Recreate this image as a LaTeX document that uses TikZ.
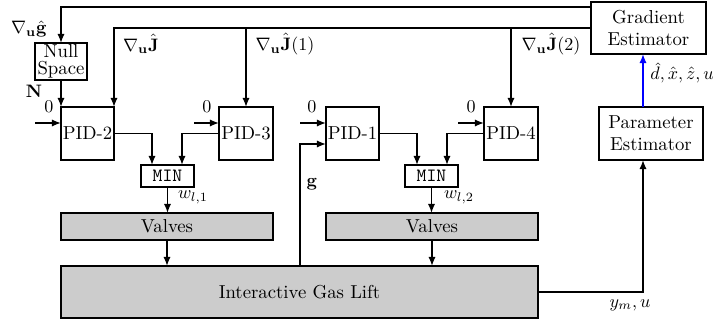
\documentclass[tikz,border=0pt]{standalone}
\usetikzlibrary{arrows.meta}
\newcommand\pxnode[7]{\node[#2,minimum width={(#5-#3)*0.0195cm},minimum height={(#6-#4)*0.0195cm}] (#1) at ({(#3+#5)/2},{(#4+#6)/2}) {#7};}
\begin{document}
\fontsize{10.4}{12.2}\selectfont
\begin{tikzpicture}[x=0.0195cm,y=-0.0195cm,
  box/.style={draw,line width=0.9pt,inner sep=0pt,outer sep=0pt,align=center},
  gbox/.style={box,fill=black!20},
  arr/.style={line width=0.9pt,-{Latex[length=5pt,width=4pt]}},
  lbl/.style={inner sep=1pt}]
\useasboundingbox (0,0) rectangle (716,322);
% blocks
\pxnode{ns}{box}{35}{43}{87}{80}{Null\\[-3pt]Space}
\pxnode{pid2}{box}{61}{107}{114}{160}{PID-2}
\pxnode{pid3}{box}{219}{107}{273}{160}{PID-3}
\pxnode{pid1}{box}{326}{107}{379}{160}{PID-1}
\pxnode{pid4}{box}{484}{107}{538}{160}{PID-4}
\pxnode{min1}{box}{141}{165}{194}{187}{\texttt{MIN}}
\pxnode{min2}{box}{405}{165}{458}{187}{\texttt{MIN}}
\pxnode{v1}{gbox}{61}{213}{273}{240}{Valves}
\pxnode{v2}{gbox}{326}{213}{538}{240}{Valves}
\pxnode{igl}{gbox}{61}{266}{538}{318}{Interactive Gas Lift}
\pxnode{ge}{box}{591}{2}{706}{54}{Gradient\\Estimator}
\pxnode{pe}{box}{599}{107}{703}{160}{Parameter\\Estimator}
% helper coordinates
\coordinate (ytop) at (0,7);
\coordinate (i2) at (35,123);
\coordinate (i3) at (194,123);
\coordinate (i1) at (300,123);
\coordinate (i4) at (458,123);
\coordinate (m1a) at (152,0);
\coordinate (m1b) at (182,0);
\coordinate (m2a) at (417,0);
\coordinate (m2b) at (447,0);
\coordinate (gx) at (300,144);
\coordinate (px) at (643,0);
% connectors
\draw[arr] (ge.west |- ytop) -| (ns.north);
\draw[arr] (ge.west) -| (pid2.north east);
\draw[arr] (pid3.north |- ge.west) -- (pid3.north);
\draw[arr] (pid4.north |- ge.west) -- (pid4.north);
\draw[arr] (ns.south) -- (pid2.north west);
\draw[arr] (i2) -- (i2 -| pid2.west);
\draw[arr] (i3) -- (i3 -| pid3.west);
\draw[arr] (i1) -- (i1 -| pid1.west);
\draw[arr] (i4) -- (i4 -| pid4.west);
\draw[arr] (pid2.east) -| (m1a |- min1.north);
\draw[arr] (pid3.west) -| (m1b |- min1.north);
\draw[arr] (pid1.east) -| (m2a |- min2.north);
\draw[arr] (pid4.west) -| (m2b |- min2.north);
\draw[arr] (min1.south) -- (min1.south |- v1.north);
\draw[arr] (min2.south) -- (min2.south |- v2.north);
\draw[arr] (v1.south) -- (v1.south |- igl.north);
\draw[arr] (v2.south) -- (v2.south |- igl.north);
\draw[arr] (gx |- igl.north) |- (pid1.west |- gx);
\draw[arr] (igl.east) -| (px |- pe.south);
\draw[arr,blue] (px |- pe.north) -- (px |- ge.south);
% labels
\node[lbl] (lg) at (29,29) {$\nabla_{\mathbf{u}}\hat{\mathbf{g}}$};
\node[lbl] (lN) at (34,91) {$\mathbf{N}$};
\node[lbl] (z2) at (49,107) {$0$};
\node[lbl] (z3) at (207,107) {$0$};
\node[lbl] (z1) at (312,107) {$0$};
\node[lbl] (z4) at (471,107) {$0$};
\node[lbl] (lJ) at (141,44) {$\nabla_{\mathbf{u}}\hat{\mathbf{J}}$};
\node[lbl] (lJ1) at (285,44) {$\nabla_{\mathbf{u}}\hat{\mathbf{J}}(1)$};
\node[lbl] (lJ2) at (551,44) {$\nabla_{\mathbf{u}}\hat{\mathbf{J}}(2)$};
\node[lbl] (lw1) at (193,197) {$w_{l,1}$};
\node[lbl] (lw2) at (459,197) {$w_{l,2}$};
\node[lbl] (lgg) at (312,184) {$\mathbf{g}$};
\node[lbl] (lest) at (682,73) {$\hat{d},\hat{x},\hat{z},u$};
\node[lbl] (lym) at (630,305) {$y_m,u$};
\end{tikzpicture}
\end{document}
